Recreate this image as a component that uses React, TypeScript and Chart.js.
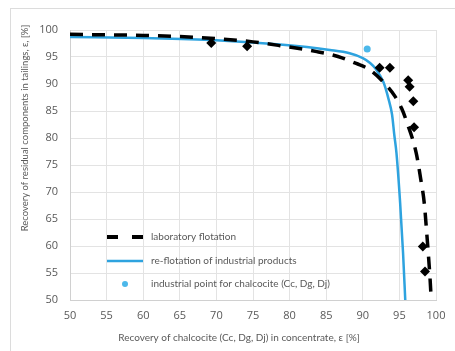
import React, { useEffect, useRef } from 'react';
import { Chart, registerables } from 'chart.js';
Chart.register(...registerables);

// laboratory flotation – fitted (dashed) curve
const labCurveX = [50, 55, 60, 65, 70, 75, 78.7, 83.7, 86.6, 89.1, 91.0, 93.2, 94.4, 95.3, 96.0, 97.3, 97.9, 98.4, 98.7, 99.2, 99.35];
const labCurveY = [99.2, 99.1, 99.0, 98.8, 98.4, 97.8, 97.1, 96.0, 95.1, 93.8, 92.6, 89.8, 87.7, 85.5, 83.0, 77.2, 72.5, 67.9, 63.0, 53.7, 50.0];
// laboratory flotation – measured points (diamonds)
const labPtsX = [69.3, 74.2, 92.3, 93.7, 96.2, 96.4, 96.9, 97.0, 98.2, 98.5];
const labPtsY = [97.6, 97.0, 93.0, 93.0, 90.7, 89.5, 86.8, 82.0, 59.9, 55.3];
// re-flotation of industrial products
const reX = [50, 60, 70, 78.7, 85.5, 88.2, 90.0, 91.0, 91.7, 92.8, 93.5, 94.0, 94.3, 94.6, 95.1, 95.5, 95.8];
const reY = [98.7, 98.5, 98.1, 97.3, 96.3, 95.7, 94.8, 93.9, 92.9, 90.4, 87.3, 84.3, 80.6, 77.2, 68.0, 58.7, 50.0];
// industrial point
const indX = [90.6];
const indY = [96.5];

const legendLabels = ['laboratory flotation', 're-flotation of industrial products', 'industrial point for chalcocite (Cc, Dg, Dj)'];
const xTitle = 'Recovery of chalcocite (Cc, Dg, Dj) in concentrate, ε [%]';
const yTitle = 'Recovery of residual components in tailings, ε, [%]';

const BLUE = '#2ea3df';
const POINT_BLUE = '#4cb8ea';
const TEXT = '#595959';

const zip = (xs: number[], ys: number[]) => xs.map((x, i) => ({ x, y: ys[i] }));

const overlay = {
  id: 'overlay',
  afterDraw(chart: any) {
    const ctx = chart.ctx as CanvasRenderingContext2D;
    const a = chart.chartArea;
    ctx.save();
    ctx.fillStyle = TEXT;
    // axis titles
    ctx.font = '10px Lato';
    ctx.textAlign = 'center';
    ctx.textBaseline = 'middle';
    ctx.fillText(xTitle, a.left + 169, a.bottom + 38);
    ctx.save();
    ctx.translate(25, a.top + 98);
    ctx.rotate(-Math.PI / 2);
    ctx.font = '9.5px Lato';
    ctx.fillText(yTitle, 0, 0);
    ctx.restore();
    // legend
    const rows = [a.top + 207, a.top + 231, a.top + 254];
    const sx = a.left + 37;
    const ex = a.left + 73;
    ctx.font = '10px Lato';
    ctx.textAlign = 'left';
    // dashed
    ctx.strokeStyle = '#000';
    ctx.lineWidth = 4;
    ctx.setLineDash([11, 14]);
    ctx.beginPath();
    ctx.moveTo(sx, rows[0]);
    ctx.lineTo(ex, rows[0]);
    ctx.stroke();
    ctx.setLineDash([]);
    // blue line
    ctx.strokeStyle = BLUE;
    ctx.lineWidth = 2.5;
    ctx.beginPath();
    ctx.moveTo(sx, rows[1]);
    ctx.lineTo(ex, rows[1]);
    ctx.stroke();
    // point
    ctx.fillStyle = POINT_BLUE;
    ctx.beginPath();
    ctx.arc((sx + ex) / 2, rows[2], 3, 0, Math.PI * 2);
    ctx.fill();
    ctx.fillStyle = TEXT;
    legendLabels.forEach((t, i) => ctx.fillText(t, a.left + 81, rows[i]));
    ctx.restore();
  },
};

export default function App() {
  const ref = useRef<HTMLCanvasElement>(null);
  useEffect(() => {
    if (!ref.current) return;
    const chart = new Chart(ref.current, {
      type: 'scatter',
      data: {
        datasets: [
          {
            label: legendLabels[0],
            data: zip(labCurveX, labCurveY),
            showLine: true,
            borderColor: '#000',
            borderWidth: 3.5,
            borderDash: [13, 9],
            pointRadius: 0,
            cubicInterpolationMode: 'monotone',
            order: 2,
          } as any,
          {
            label: 'lab points',
            data: zip(labPtsX, labPtsY),
            pointStyle: 'rectRot',
            pointRadius: 5,
            backgroundColor: '#000',
            borderColor: '#000',
            borderWidth: 0,
            order: 1,
          } as any,
          {
            label: legendLabels[1],
            data: zip(reX, reY),
            showLine: true,
            borderColor: BLUE,
            borderWidth: 2.5,
            pointRadius: 0,
            cubicInterpolationMode: 'monotone',
            order: 3,
          } as any,
          {
            label: legendLabels[2],
            data: zip(indX, indY),
            pointStyle: 'circle',
            pointRadius: 3.5,
            backgroundColor: POINT_BLUE,
            borderColor: POINT_BLUE,
            borderWidth: 0,
            order: 0,
          } as any,
        ],
      },
      options: {
        animation: false,
        responsive: false,
        devicePixelRatio: 1,
        layout: { padding: { left: 0, top: 30, right: 19, bottom: 0 } },
        plugins: { legend: { display: false }, tooltip: { enabled: false }, title: { display: false } },
        scales: {
          x: {
            type: 'linear',
            min: 50,
            max: 100,
            ticks: { stepSize: 5, color: TEXT, font: { family: 'Open Sans', size: 11 }, padding: 9 },
            grid: { color: '#e3e3e3', drawTicks: false },
            border: { display: true, color: '#d0d0d0' },
            afterFit: (s: any) => { s.height = 51; },
          },
          y: {
            type: 'linear',
            min: 50,
            max: 100,
            ticks: { stepSize: 5, color: TEXT, font: { family: 'Open Sans', size: 11 }, padding: 12 },
            grid: { color: '#e3e3e3', drawTicks: false },
            border: { display: true, color: '#d0d0d0' },
            afterFit: (s: any) => { s.width = 70; },
          },
        },
      },
      plugins: [overlay],
    });
    return () => chart.destroy();
  }, []);
  return (
    <div style={{ position: 'absolute', left: 0, top: 0, width: 455, height: 351, background: '#fff' }}>
      <div style={{ position: 'absolute', left: 10, top: 8, width: 460, height: 360, borderLeft: '1px solid #dcdcdc', borderTop: '1px solid #dcdcdc' }} />
      <canvas ref={ref} width={455} height={351} style={{ position: 'absolute', left: 0, top: 0 }} />
    </div>
  );
}
